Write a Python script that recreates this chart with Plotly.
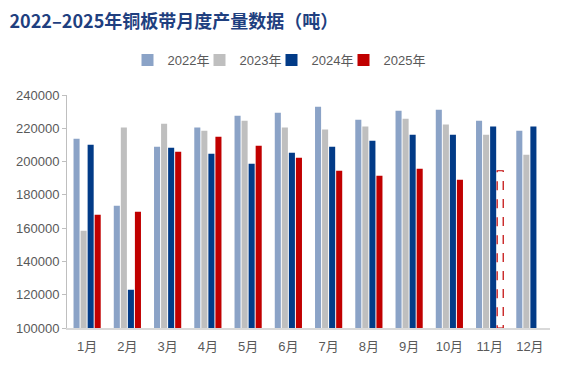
import plotly.graph_objects as go

months = ["1月", "2月", "3月", "4月", "5月", "6月", "7月", "8月", "9月", "10月", "11月", "12月"]
v2022 = [213700, 173500, 208900, 220400, 227600, 229400, 233000, 225200, 230600, 231200, 224600, 218500]
v2023 = [158500, 220400, 222800, 218500, 224600, 220400, 219200, 221000, 225800, 222200, 216100, 204100]
v2024 = [210100, 123000, 208300, 204700, 198700, 205300, 208900, 212500, 216100, 216100, 221000, 221000]
v2025 = [168100, 169900, 205900, 214900, 209500, 202300, 194500, 191500, 195700, 189100, 194500, None]
est_2025 = [False] * 10 + [True, False]  # 11月 is an estimate (dashed outline)

series_names = ["2022年", "2023年", "2024年", "2025年"]
colors = ["#8BA3C7", "#BFBFBF", "#023B87", "#C00000"]

W, H = 561, 361  # page body adds an 8px offset
BARGAP = 0.3
GROUPGAP = 0.14

legend_ids = ["legend", "legend2", "legend3", "legend4"]
LEG_X0 = 119.5   # px, left of first legend box
LEG_PITCH = 72   # px between legend entries

fig = go.Figure()
for name, vals, col, lid in zip(series_names[:3], [v2022, v2023, v2024], colors[:3], legend_ids[:3]):
    fig.add_trace(go.Bar(x=months, y=vals, name=name, legend=lid,
                         marker=dict(color=col, line=dict(width=0))))

c25 = ["rgba(255,255,255,0)" if e else colors[3] for e in est_2025]
fig.add_trace(go.Bar(x=months, y=v2025, name=series_names[3], legend=legend_ids[3],
                     marker=dict(color=c25, line=dict(width=0))))

# dashed outline for the estimated bar, derived from the group geometry
n = 4
slot = (1 - BARGAP) / n
bw = slot * (1 - GROUPGAP)
center_off = -(1 - BARGAP) / 2 + slot * 3.5
for i, (v, e) in enumerate(zip(v2025, est_2025)):
    if e and v is not None:
        fig.add_shape(type="rect", xref="x", yref="y",
                      x0=i + center_off - bw / 2, x1=i + center_off + bw / 2,
                      y0=100000, y1=v,
                      line=dict(color=colors[3], width=1.2, dash="dash"),
                      fillcolor="white", layer="above")

legend_font = dict(family="Liberation Sans, Noto Sans CJK SC", size=13, color="#595959")
leg_layout = {}
for k, lid in enumerate(legend_ids):
    leg_layout[lid] = dict(orientation="h", xref="container", yref="container",
                           x=(LEG_X0 + k * LEG_PITCH) / W, xanchor="left",
                           y=1 - 52 / H, yanchor="middle",
                           font=legend_font, itemwidth=30,
                           bgcolor="rgba(0,0,0,0)", borderwidth=0)

fig.update_layout(
    width=W, height=H, showlegend=True,
    barmode="group", bargap=BARGAP, bargroupgap=GROUPGAP,
    plot_bgcolor="white", paper_bgcolor="white",
    margin=dict(l=59, r=19, t=87, b=41, autoexpand=False),
    title=dict(text="<b>2022–2025年铜板带月度产量数据（吨）</b>",
               x=1.5 / W, xref="container", xanchor="left", y=1 - 13.5 / H, yanchor="middle",
               pad=dict(l=0),
               font=dict(family="Noto Sans CJK SC", size=18, color="#1F3F7F")),
    font=dict(family="Liberation Sans, Noto Sans CJK SC", color="#595959"),
    **leg_layout,
)
fig.update_yaxes(range=[100000, 240000], dtick=20000, showgrid=False,
                 showline=True, linecolor="#BFBFBF", linewidth=1,
                 ticks="outside", ticklen=4, tickcolor="#BFBFBF",
                 tickfont=dict(size=13, color="#595959"), tickformat="d", zeroline=False)
fig.update_xaxes(showline=True, linecolor="#D9D9D9", linewidth=1.5,
                 tickfont=dict(size=13, color="#595959"), ticks="", showgrid=False,
                 ticklabelstandoff=6)

fig.write_html("out.html")
